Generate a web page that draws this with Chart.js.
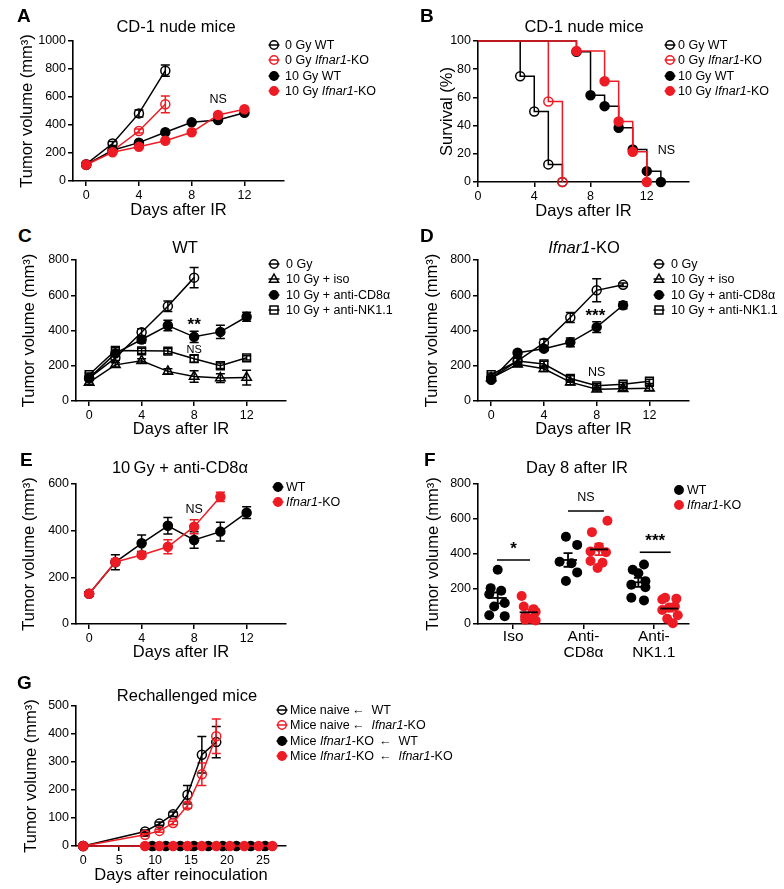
<!DOCTYPE html>
<html>
<head>
<meta charset="utf-8">
<script src="https://cdn.jsdelivr.net/npm/chart.js@4.4.1/dist/chart.umd.min.js"></script>
<style>
  body { margin: 0; background: #fff; width: 784px; height: 889px; position: relative; overflow: hidden;
         font-family: "Liberation Sans", Arial, sans-serif; color: #000; }
  canvas { position: absolute; }
  .lbl { position: absolute; font-weight: bold; font-size: 19px; line-height: 1; }
  .ttl { position: absolute; font-size: 16.5px; line-height: 1; transform: translate(-50%, -50%); white-space: nowrap; }
  .legrow { position: absolute; font-size: 12.5px; line-height: 1; white-space: nowrap; transform: translateY(-50%); }
  .legmk { position: absolute; }
</style>
</head>
<body>
<script>
// ---- data: panel A (tumor growth, CD-1 nude) ----
const aDays = [0, 2, 4, 6, 8, 10, 12];
const aLabels = ['0 Gy WT', '0 Gy <i>Ifnar1</i>-KO', '10 Gy WT', '10 Gy <i>Ifnar1</i>-KO'];
const aWT0 = [120, 268, 483, 788];
const aWT0Err = [8, 15, 25, 40];
const aKO0 = [118, 215, 357, 548];
const aKO0Err = [8, 12, 15, 60];
const aWT10 = [115, 220, 274, 348, 419, 436, 488];
const aKO10 = [116, 205, 245, 288, 348, 471, 512];
const aTicksX = [0, 4, 8, 12];
const aTicksY = [0, 200, 400, 600, 800, 1000];

// ---- data: panel B (survival) ----
const bLabels = aLabels;
const bWT0Days = [0, 3, 4, 5, 6];
const bWT0Surv = [100, 75, 50, 12.5, 0];
const bKO0Days = [0, 5, 6];
const bKO0Surv = [100, 57.1, 0];
const bWT10Days = [0, 7, 8, 9, 10, 11, 12, 13];
const bWT10Surv = [100, 92.3, 61.5, 53.8, 38.5, 23.1, 7.7, 0];
const bKO10Days = [0, 7, 9, 10, 11, 12];
const bKO10Surv = [100, 92.9, 71.4, 42.9, 21.4, 0];
const bTicksX = [0, 4, 8, 12];
const bTicksY = [0, 20, 40, 60, 80, 100];

// ---- data: panels C and D (treatment groups) ----
const cdLabels = ['0 Gy', '10 Gy + iso', '10 Gy + anti-CD8\u03b1', '10 Gy + anti-NK1.1'];
const cdDays = [0, 2, 4, 6, 8, 10, 12];
const c0Gy = [130, 245, 390, 538, 700];
const c0GyErr = [10, 15, 20, 30, 57];
const cIso = [105, 205, 228, 168, 139, 130, 133];
const cIsoErr = [10, 12, 12, 15, 32, 25, 42];
const cCD8 = [130, 270, 349, 428, 364, 392, 478];
const cCD8Err = [10, 15, 20, 30, 32, 38, 25];
const cNK = [149, 287, 285, 283, 240, 200, 245];
const cNKErr = [10, 15, 15, 15, 20, 15, 12];
const d0Gy = [130, 228, 330, 474, 628, 659];
const d0GyErr = [10, 15, 20, 28, 65, 10];
const dIso = [130, 208, 183, 107, 67, 69, 72];
const dIsoErr = [10, 12, 15, 15, 10, 10, 12];
const dCD8 = [120, 274, 297, 333, 419, 543];
const dCD8Err = [10, 10, 10, 25, 30, 20];
const dNK = [149, 227, 210, 128, 86, 95, 112];
const dNKErr = [10, 15, 15, 15, 12, 12, 12];
const cdTicksY = [0, 200, 400, 600, 800];

// ---- data: panel E ----
const eLabels = ['WT', '<i>Ifnar1</i>-KO'];
const eWT = [130, 265, 346, 421, 360, 396, 477];
const eWTErr = [8, 32, 35, 35, 35, 40, 25];
const eKO = [130, 266, 296, 331, 417, 545];
const eKOErr = [8, 12, 10, 30, 30, 20];
const eTicksY = [0, 200, 400, 600];

// ---- data: panel F (day 8, individual mice) ----
const fLabels = eLabels;
const fGroups = [['Iso'], ['Anti-', 'CD8\u03b1'], ['Anti-', 'NK1.1']];
const fWT = [[310, 205, 190, 170, 120, 100, 50, 45],
             [499, 452, 356, 347, 295, 246],
             [340, 310, 290, 245, 225, 210, 150, 135]];
const fKO = [[160, 100, 85, 70, 45, 30, 25, 20],
             [590, 525, 440, 415, 410, 360, 350, 320],
             [150, 145, 140, 100, 95, 80, 50, 30, 5]];
const fWTJitter = [[0, -0.1, 0.05, -0.12, 0.1, -0.05, -0.12, 0.1],
                   [-0.03, 0.13, -0.12, 0.05, 0.13, -0.03],
                   [0.08, -0.08, 0.0, 0.1, -0.1, 0.1, -0.1, 0.08]];
const fKOJitter = [[-0.1, -0.07, 0.07, 0.1, -0.05, 0.03, -0.05, 0.1],
                   [0.12, -0.1, 0.0, -0.12, 0.1, -0.12, 0.05, -0.02],
                   [-0.06, 0.1, -0.1, 0.08, 0.0, -0.1, 0.12, -0.03, 0.05]];
const fTicksY = [0, 200, 400, 600, 800];

// ---- data: panel G (rechallenge) ----
const gLabels = ['Mice naive', 'Mice naive', 'Mice <i>Ifnar1</i>-KO', 'Mice <i>Ifnar1</i>-KO'];
const gSources = ['WT', '<i>Ifnar1</i>-KO', 'WT', '<i>Ifnar1</i>-KO'];
const gDays = [0, 8.6, 10.6, 12.5, 14.5, 16.5, 18.5];
const gNaiveWT = [0, 52, 80, 113, 183, 326, 371];
const gNaiveWTErr = [0, 5, 6, 8, 33, 65, 56];
const gNaiveKO = [0, 40, 54, 82, 145, 256, 392];
const gNaiveKOErr = [0, 5, 5, 6, 10, 40, 62];
const gKOWTDays = [0, 9.6, 11.5, 13.5, 15.4, 17.4, 19.4, 21.3, 23.3, 25.3];
const gKOWT = [0, 0, 0, 0, 0, 0, 0, 0, 0, 0];
const gKOKODays = [0, 8.6, 10.6, 12.5, 14.5, 16.5, 18.5, 20.4, 22.4, 24.4, 26.3];
const gKOKO = [0, 0, 0, 0, 0, 0, 0, 0, 0, 0, 0];
const gTicksX = [0, 5, 10, 15, 20, 25];
const gTicksY = [0, 100, 200, 300, 400, 500];

const RED = '#ed1c24';
const BLACK = '#000000';
const FONT = '"Liberation Sans", Arial, sans-serif';
Chart.defaults.font.family = FONT;
Chart.defaults.color = '#000';

// draws +/- error bars from dataset.errors through the y scale
const errorBars = {
  id: 'errorBars',
  beforeDatasetsDraw(chart) {
    const ctx = chart.ctx, ys = chart.scales.y;
    chart.data.datasets.forEach((ds, i) => {
      if (!ds.errors) return;
      const meta = chart.getDatasetMeta(i);
      ctx.save();
      ctx.strokeStyle = ds.borderColor;
      ctx.lineWidth = 1.5;
      meta.data.forEach((pt, j) => {
        const e = ds.errors[j];
        if (!e) return;
        const v = ds.data[j].y;
        const top = ys.getPixelForValue(v + e), bot = ys.getPixelForValue(v - e);
        ctx.beginPath();
        ctx.moveTo(pt.x, top); ctx.lineTo(pt.x, bot);
        ctx.moveTo(pt.x - 4.5, top); ctx.lineTo(pt.x + 4.5, top);
        ctx.moveTo(pt.x - 4.5, bot); ctx.lineTo(pt.x + 4.5, bot);
        ctx.stroke();
      });
      ctx.restore();
    });
  }
};

// significance text / bars placed in data coordinates
function notes(items) {
  return {
    id: 'notes',
    afterDatasetsDraw(chart) {
      const {ctx, scales: {x, y}} = chart;
      items.forEach(n => {
        ctx.save();
        ctx.fillStyle = '#000';
        ctx.strokeStyle = '#000';
        ctx.textAlign = 'center';
        ctx.textBaseline = 'middle';
        ctx.font = n.font || '12.5px ' + FONT;
        const py = y.getPixelForValue(n.y);
        if (n.x2 !== undefined) {
          const x1 = x.getPixelForValue(n.x), x2 = x.getPixelForValue(n.x2);
          ctx.lineWidth = 1.6;
          ctx.beginPath(); ctx.moveTo(x1, py); ctx.lineTo(x2, py); ctx.stroke();
          ctx.fillText(n.text, (x1 + x2) / 2, py - (n.dy || 10));
        } else {
          ctx.fillText(n.text, x.getPixelForValue(n.x), py);
        }
        ctx.restore();
      });
    }
  };
}

function series(xs, ys, color, style, filled, errs, extra) {
  return Object.assign({
    data: ys.map((v, i) => ({x: xs[i], y: v})),
    showLine: true,
    borderColor: color,
    borderWidth: 1.5,
    pointStyle: style,
    pointRadius: style === 'circle' ? 4.5 : 5.5,
    pointBorderWidth: 1.5,
    pointBorderColor: color,
    pointBackgroundColor: filled ? color : 'rgba(0,0,0,0)',
    errors: errs,
    clip: false,
    mk: {style, color, filled}
  }, extra || {});
}

function axisCommon() {
  return {
    grid: {display: true, drawOnChartArea: false, drawTicks: true, tickLength: 5, color: '#000', lineWidth: 1.5},
    border: {display: true, color: '#000', width: 1.6}
  };
}

function scales(box, xo, yo) {
  return {
    x: Object.assign(axisCommon(), {
      type: 'linear', min: xo.min, max: xo.max,
      afterBuildTicks: s => { s.ticks = xo.ticks.map(v => ({value: v})); },
      afterFit: s => { s.height = box.xTitleY + 11 - box.b; },
      ticks: {font: xo.font || {size: 12.5}, padding: xo.pad === undefined ? 2 : xo.pad, color: '#000',
              maxRotation: 0, autoSkip: false, callback: xo.labels || (v => String(v))},
      title: {display: !!xo.title, text: xo.title, color: '#000', font: {size: 16.5, lineHeight: 1.2},
              padding: {top: 0, bottom: 1}}
    }),
    y: Object.assign(axisCommon(), {
      type: 'linear', min: yo.min, max: yo.max,
      afterBuildTicks: s => { s.ticks = yo.ticks.map(v => ({value: v})); },
      afterFit: s => { s.width = box.l - box.x0; },
      ticks: {font: {size: 12.5}, padding: 2, color: '#000', autoSkip: false, callback: v => String(v)},
      title: {display: true, text: yo.title, color: '#000', font: {size: 16.5, lineHeight: 1.2},
              padding: {top: box.yTitleX - box.x0 - 9.9, bottom: 0}}
    })
  };
}

function makeChart(box, datasets, sc, plugins) {
  const cv = document.createElement('canvas');
  const top = box.t - 12, bottom = box.xTitleY + 11, right = box.r + 8;
  cv.width = right - box.x0;
  cv.height = bottom - top;
  cv.style.left = box.x0 + 'px';
  cv.style.top = top + 'px';
  document.body.appendChild(cv);
  datasets.forEach((d, i) => { d.order = datasets.length - i; });
  return new Chart(cv, {
    type: 'scatter',
    data: {datasets},
    options: {
      responsive: false, animation: false, events: [],
      layout: {padding: {top: 12, right: 8, left: 0, bottom: 0}},
      plugins: {legend: {display: false}, tooltip: {enabled: false}},
      scales: sc
    },
    plugins: [errorBars].concat(plugins || [])
  });
}

function markerSvg(mk, line) {
  const fill = mk.filled ? mk.color : 'none';
  let shape;
  if (mk.style === 'triangle') shape = `<polygon points="7,2 11.6,10.3 2.4,10.3" fill="${fill}" stroke="${mk.color}" stroke-width="1.5"/>`;
  else if (mk.style === 'rect') shape = `<rect x="3" y="3" width="8" height="8" fill="${fill}" stroke="${mk.color}" stroke-width="1.5"/>`;
  else shape = `<circle cx="7" cy="7" r="4.2" fill="${fill}" stroke="${mk.color}" stroke-width="1.5"/>`;
  const ln = line ? `<line x1="1.5" y1="7" x2="12.5" y2="7" stroke="${mk.color}" stroke-width="1.5"/>` : '';
  return `<svg width="14" height="14" viewBox="0 0 14 14">${ln}${shape}</svg>`;
}

function legend(chart, labels, mx, tx, y0, dy, line) {
  chart.data.datasets.forEach((ds, i) => {
    const y = y0 + i * dy;
    const m = document.createElement('div');
    m.className = 'legmk';
    m.style.left = (mx - 7) + 'px';
    m.style.top = (y - 7) + 'px';
    m.innerHTML = markerSvg(ds.mk, line);
    document.body.appendChild(m);
    const t = document.createElement('div');
    t.className = 'legrow';
    t.style.left = tx + 'px';
    t.style.top = y + 'px';
    t.innerHTML = labels[i];
    document.body.appendChild(t);
  });
}

function text(cls, html, x, y) {
  const d = document.createElement('div');
  d.className = cls;
  d.style.left = x + 'px';
  d.style.top = y + 'px';
  d.innerHTML = html;
  document.body.appendChild(d);
}

const TV = 'Tumor volume (mm\u00b3)';
const DAYS = 'Days after IR';

// ---------- A ----------
const boxA = {x0: 0, l: 73, t: 41, r: 284, b: 181, yTitleX: 27, xTitleY: 210};
const chartA = makeChart(boxA, [
  series(aDays, aWT0, BLACK, 'circle', false, aWT0Err),
  series(aDays, aKO0, RED, 'circle', false, aKO0Err),
  series(aDays, aWT10, BLACK, 'circle', true),
  series(aDays, aKO10, RED, 'circle', true)
], scales(boxA, {min: -1, max: 15, ticks: aTicksX, title: DAYS}, {min: 0, max: 1000, ticks: aTicksY, title: TV}),
  [notes([{x: 10, y: 580, text: 'NS'}])]);
legend(chartA, aLabels, 274, 285, 45, 15.3, true);

// ---------- B ----------
const boxB = {x0: 392, l: 478, t: 41, r: 689, b: 182, yTitleX: 447, xTitleY: 211};
const km = {stepped: true, pointRadius: c => (c.dataIndex === 0 ? 0 : 4.5)};
const chartB = makeChart(boxB, [
  series(bWT0Days, bWT0Surv, BLACK, 'circle', false, null, km),
  series(bKO0Days, bKO0Surv, RED, 'circle', false, null, km),
  series(bWT10Days, bWT10Surv, BLACK, 'circle', true, null, km),
  series(bKO10Days, bKO10Surv, RED, 'circle', true, null, km)
], scales(boxB, {min: 0, max: 15, ticks: bTicksX, title: DAYS}, {min: 0, max: 100, ticks: bTicksY, title: 'Survival (%)'}),
  [notes([{x: 13.4, y: 22.5, text: 'NS'}])]);
legend(chartB, bLabels, 670, 678, 45, 15.3, true);

// ---------- C ----------
const boxC = {x0: 0, l: 76, t: 260, r: 286, b: 401, yTitleX: 29, xTitleY: 429};
const chartC = makeChart(boxC, [
  series(cdDays, c0Gy, BLACK, 'circle', false, c0GyErr),
  series(cdDays, cIso, BLACK, 'triangle', false, cIsoErr),
  series(cdDays, cCD8, BLACK, 'circle', true, cCD8Err),
  series(cdDays, cNK, BLACK, 'rect', false, cNKErr)
], scales(boxC, {min: -1, max: 15, ticks: aTicksX, title: DAYS}, {min: 0, max: 800, ticks: cdTicksY, title: TV}),
  [notes([{x: 8, y: 430, text: '**', font: 'bold 17px ' + FONT},
          {x: 8, y: 292, text: 'NS', font: '11px ' + FONT}])]);
legend(chartC, cdLabels, 274, 286, 264, 15.3, true);

// ---------- D ----------
const boxD = {x0: 392, l: 478, t: 260, r: 689, b: 401, yTitleX: 432, xTitleY: 429};
const chartD = makeChart(boxD, [
  series(cdDays, d0Gy, BLACK, 'circle', false, d0GyErr),
  series(cdDays, dIso, BLACK, 'triangle', false, dIsoErr),
  series(cdDays, dCD8, BLACK, 'circle', true, dCD8Err),
  series(cdDays, dNK, BLACK, 'rect', false, dNKErr)
], scales(boxD, {min: -1, max: 15, ticks: aTicksX, title: DAYS}, {min: 0, max: 800, ticks: cdTicksY, title: TV}),
  [notes([{x: 7.9, y: 480, text: '***', font: 'bold 17px ' + FONT},
          {x: 8, y: 160, text: 'NS', font: '12.5px ' + FONT}])]);
legend(chartD, cdLabels, 659, 671, 264, 15.3, true);

// ---------- E ----------
const boxE = {x0: 0, l: 76, t: 484, r: 286, b: 624, yTitleX: 29, xTitleY: 652};
const chartE = makeChart(boxE, [
  series(cdDays, eWT, BLACK, 'circle', true, eWTErr),
  series(cdDays, eKO, RED, 'circle', true, eKOErr)
], scales(boxE, {min: -1, max: 15, ticks: aTicksX, title: DAYS}, {min: 0, max: 600, ticks: eTicksY, title: TV}),
  [notes([{x: 8, y: 489, text: 'NS'}])]);
legend(chartE, eLabels, 278, 286, 487, 15.3, true);

// ---------- F ----------
const boxF = {x0: 392, l: 478, t: 484, r: 689, b: 624, yTitleX: 433, xTitleY: 652};
const SIDE = 0.22;
const mean = a => a.reduce((s, v) => s + v, 0) / a.length;
const sem = a => { const m = mean(a); return Math.sqrt(a.reduce((s, v) => s + (v - m) ** 2, 0) / (a.length - 1) / a.length); };
function dots(groups, jit, side, color) {
  const pts = [];
  groups.forEach((vals, g) => vals.forEach((v, k) => pts.push({x: g + 1 + side + jit[g][k], y: v})));
  return {data: pts, pointRadius: 5, pointBackgroundColor: color, pointBorderColor: color, pointBorderWidth: 0,
          clip: false, mk: {style: 'circle', color, filled: true}};
}
// mean line (black) with SEM whiskers in the group colour
const fMeans = {
  id: 'fMeans',
  afterDatasetsDraw(chart) {
    const {ctx, scales: {x, y}} = chart;
    [[fWT, -SIDE, BLACK], [fKO, SIDE, RED]].forEach(([groups, side, color]) => {
      groups.forEach((vals, g) => {
        const m = mean(vals), s = sem(vals);
        const cx = x.getPixelForValue(g + 1 + side);
        const pm = y.getPixelForValue(m), pt = y.getPixelForValue(m + s), pb = y.getPixelForValue(m - s);
        ctx.save();
        ctx.lineWidth = 1.8;
        ctx.strokeStyle = color;
        ctx.beginPath();
        ctx.moveTo(cx, pt); ctx.lineTo(cx, pb);
        ctx.moveTo(cx - 4.5, pt); ctx.lineTo(cx + 4.5, pt);
        ctx.moveTo(cx - 4.5, pb); ctx.lineTo(cx + 4.5, pb);
        ctx.stroke();
        ctx.strokeStyle = BLACK;
        ctx.beginPath();
        ctx.moveTo(cx - 9, pm); ctx.lineTo(cx + 9, pm);
        ctx.stroke();
        ctx.restore();
      });
    });
  }
};
const chartF = makeChart(boxF, [
  dots(fWT, fWTJitter, -SIDE, BLACK),
  dots(fKO, fKOJitter, SIDE, RED)
], scales(boxF, {min: 0.5, max: 3.5, ticks: [1, 2, 3], labels: v => fGroups[v - 1], pad: 0,
                 font: {size: 15.5, lineHeight: 1.0}},
         {min: 0, max: 800, ticks: fTicksY, title: TV}),
  [fMeans, notes([{x: 0.77, x2: 1.24, y: 366, text: '*', font: 'bold 17px ' + FONT, dy: 11},
                  {x: 1.78, x2: 2.29, y: 646, text: 'NS', font: '12.5px ' + FONT, dy: 13},
                  {x: 2.80, x2: 3.24, y: 410, text: '***', font: 'bold 17px ' + FONT, dy: 11}])]);
legend(chartF, fLabels, 679, 687, 490, 15.3, false);

// ---------- G ----------
const boxG = {x0: 0, l: 76, t: 706, r: 286, b: 846, yTitleX: 31, xTitleY: 875};
const chartG = makeChart(boxG, [
  series(gDays, gNaiveWT, BLACK, 'circle', false, gNaiveWTErr),
  series(gDays, gNaiveKO, RED, 'circle', false, gNaiveKOErr),
  series(gKOWTDays, gKOWT, BLACK, 'circle', true),
  series(gKOKODays, gKOKO, RED, 'circle', true)
], scales(boxG, {min: -1, max: 28.2, ticks: gTicksX, title: 'Days after reinoculation'},
         {min: 0, max: 500, ticks: gTicksY, title: TV}));
legend(chartG, gLabels.map((l, i) =>
  `<span style="display:inline-block;width:${i < 2 ? 62 : 89}px">${l}</span>\u2190&nbsp;&nbsp;${gSources[i]}`),
  282, 290, 710, 15.3, true);

// ---------- titles and panel letters ----------
text('ttl', 'CD-1 nude mice', 176, 26);
text('ttl', 'CD-1 nude mice', 584, 26);
text('ttl', 'WT', 185, 247);
text('ttl', '<i>Ifnar1</i>-KO', 584, 247);
text('ttl', '10\u202fGy + anti-CD8\u03b1', 180, 467);
text('ttl', 'Day 8 after IR', 577, 467);
text('ttl', 'Rechallenged mice', 187, 695);
text('lbl', 'A', 17, 6);
text('lbl', 'B', 420, 6);
text('lbl', 'C', 18, 226);
text('lbl', 'D', 420, 226);
text('lbl', 'E', 20, 450);
text('lbl', 'F', 424, 450);
text('lbl', 'G', 17, 673);
</script>
</body>
</html>
